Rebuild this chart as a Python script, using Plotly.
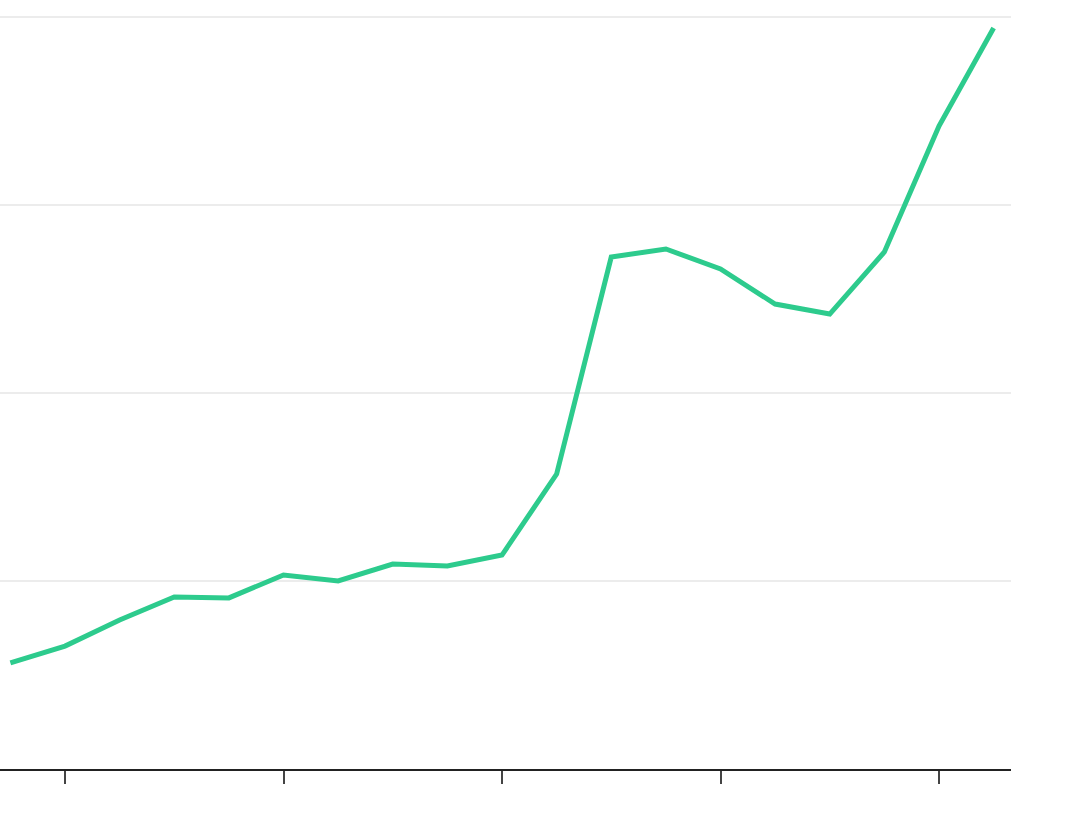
import plotly.graph_objects as go

years = list(range(2001, 2020))
values = [0.564, 0.654, 0.793, 0.915, 0.910, 1.032, 1.000, 1.090, 1.080, 1.138,
          1.569, 2.723, 2.766, 2.660, 2.473, 2.420, 2.750, 3.420, 3.941]
tick_years = [2002, 2006, 2010, 2014, 2018]

fig = go.Figure()
fig.add_trace(go.Scatter(x=years, y=values, mode="lines",
                         line=dict(color="#2dcb8d", width=5), hoverinfo="skip"))

fig.update_layout(
    width=1080, height=814,
    margin=dict(l=0, r=69, t=15, b=45),
    paper_bgcolor="white", plot_bgcolor="white",
    showlegend=False,
)
fig.update_xaxes(
    range=[2001 - 0.19, 2019.318],
    tickvals=tick_years, showticklabels=False,
    ticks="outside", ticklen=13, tickwidth=1.5, tickcolor="#444",
    showgrid=False, showline=True, linecolor="#222", linewidth=2,
    zeroline=False,
)
fig.update_yaxes(
    range=[0, 4.0106], tickvals=[0, 1, 2, 3, 4], showticklabels=False,
    showgrid=True, gridcolor="#ececec", gridwidth=1.5,
    zeroline=False, showline=False, ticks="",
)
fig.write_html("out.html", config={"displayModeBar": False},
               post_script="document.body.style.margin='0';")
